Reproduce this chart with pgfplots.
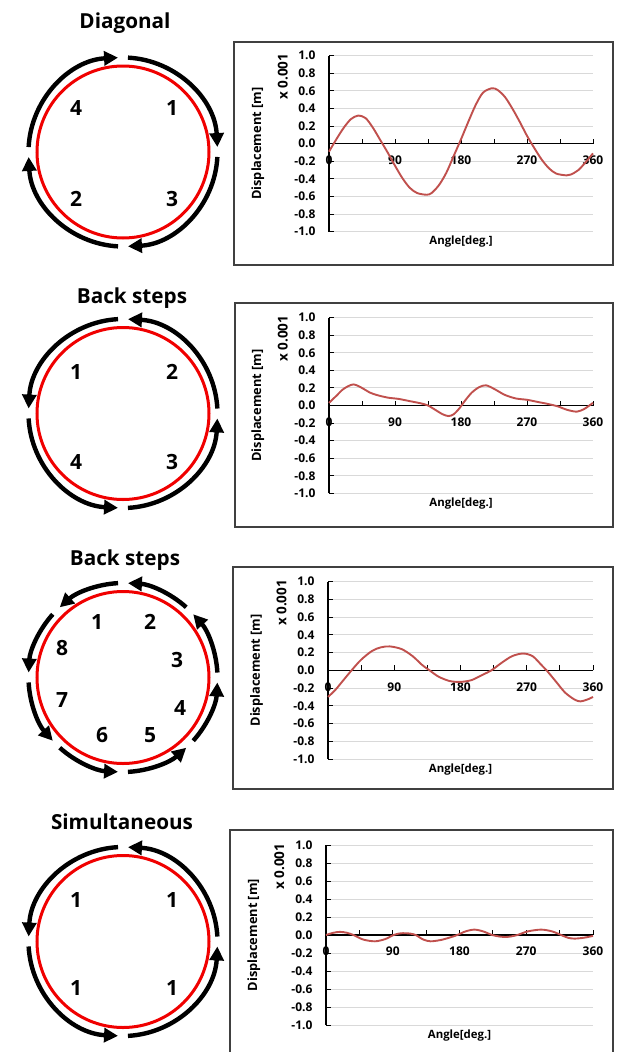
\documentclass[border=0pt]{standalone}
\usepackage{fontspec}
\setmainfont{Open Sans}
\usepackage{pgfplots}
\pgfplotsset{compat=1.18}
\usetikzlibrary{arrows.meta}
\definecolor{curve}{HTML}{C0504D}
\definecolor{gridc}{HTML}{D9D9D9}
\definecolor{ringred}{HTML}{F00000}
\definecolor{boxc}{HTML}{404040}

\pgfplotsset{
  dispaxis/.style={
    scale only axis,
    xmin=0, xmax=360, ymin=-1, ymax=1,
    axis x line=middle, axis y line=left,
    axis line style={-, black, line width=1.3pt},
    every inner x axis line/.append style={-},
    every outer y axis line/.append style={-},
    hide obscured x ticks=false,
    xtick={0,45,...,360},
    xticklabels={0,,90,,180,,270,,360},
    ytick={-1,-0.8,...,1.01},
    tick align=inside,
    major tick length=5pt,
    tick style={black, line width=1pt},
    ymajorgrids,
    grid style={gridc, line width=1pt},
    /pgf/number format/fixed,
    /pgf/number format/fixed zerofill,
    /pgf/number format/precision=1,
    /pgf/number format/assume math mode=true,
    yticklabel style={xshift=-10pt, font=\fontsize{12}{14}\selectfont\bfseries},
    xticklabel style={yshift=-8.5pt, font=\fontsize{12}{14}\selectfont\bfseries},
    ylabel={Displacement [m]},
    xlabel={Angle[deg.]},
    every axis y label/.style={at={(axis description cs:-0.27,0.5)}, rotate=90, anchor=center, font=\fontsize{12.8}{14}\selectfont\bfseries},
    every axis x label/.style={at={(axis description cs:0.5,-0.057)}, anchor=center, font=\fontsize{11.4}{13}\selectfont\bfseries},
    clip=false,
  },
  dispcurve/.style={curve, line width=1.9pt, smooth, no marks},
}

\newcommand{\ringcw}[2]{% center x, center y (pixels)
  \draw[ringred, line width=3pt] (#1pt,-#2pt) circle[radius=86pt];
  \foreach \k in {0,1,2,3}{
    \pgfmathsetmacro{\sa}{\k*90+87}
    \pgfmathsetmacro{\ea}{\k*90+3}
    \draw[line width=4.4pt, -{Triangle[length=14pt,width=14pt]}]
      ([shift={(\sa:94.5pt)}]#1pt,-#2pt) arc[start angle=\sa, end angle=\ea, radius=94.5pt];
  }
}
\newcommand{\ringccw}[3]{% center x, center y, step angle
  \draw[ringred, line width=3pt] (#1pt,-#2pt) circle[radius=86pt];
  \pgfmathtruncatemacro{\nn}{360/#3-1}
  \foreach \k in {0,...,\nn}{
    \pgfmathsetmacro{\sa}{\k*#3+3}
    \pgfmathsetmacro{\ea}{\k*#3+#3-3}
    \draw[line width=4.4pt, -{Triangle[length=14pt,width=14pt]}]
      ([shift={(\sa:94.5pt)}]#1pt,-#2pt) arc[start angle=\sa, end angle=\ea, radius=94.5pt];
  }
}
\newcommand{\xunit}{\node[rotate=90, font=\fontsize{13.5}{15}\selectfont\bfseries] at (axis description cs:-0.175,0.88) {x 0.001};}

\begin{document}
\begin{tikzpicture}
\path[use as bounding box] (0pt,0pt) rectangle (616pt,-1052pt);
\tikzset{title/.style={font=\fontsize{20.7}{24}\selectfont\bfseries, anchor=center},
         num/.style={font=\fontsize{21}{24}\selectfont\bfseries, anchor=center}}

% ---------- Panel 1 ----------
\node[title] at (125pt,-23pt) {Diagonal};
\ringcw{123}{152}
\node[num] at (76pt,-108pt) {4};
\node[num] at (172pt,-108pt) {1};
\node[num] at (76pt,-199pt) {2};
\node[num] at (172pt,-199pt) {3};
\draw[boxc, line width=1.6pt] (234pt,-42pt) rectangle (613pt,-265pt);
\begin{axis}[dispaxis, at={(329pt,-231.7pt)}, anchor=south west, width=264pt, height=176pt]
\addplot[dispcurve] coordinates {
(0,-0.09) (10,0.05) (20,0.18) (30,0.28) (40,0.32) (50,0.29) (60,0.18) (70,0.04)
(80,-0.10) (90,-0.25) (100,-0.39) (110,-0.50) (120,-0.56) (133,-0.58) (140,-0.56)
(150,-0.47) (160,-0.33) (170,-0.14) (180,0.05) (190,0.25) (200,0.44) (210,0.58)
(222,0.63) (230,0.61) (240,0.53) (250,0.40) (260,0.25) (270,0.09) (280,-0.05)
(290,-0.18) (300,-0.28) (310,-0.34) (324,-0.36) (330,-0.35) (340,-0.30) (350,-0.21) (360,-0.11)
};
\xunit
\end{axis}

% ---------- Panel 2 ----------
\node[title] at (132pt,-298pt) {Back steps};
\ringccw{123}{413.5}{90}
\node[num] at (76pt,-372pt) {1};
\node[num] at (172pt,-372pt) {2};
\node[num] at (76pt,-462pt) {4};
\node[num] at (172pt,-462pt) {3};
\draw[boxc, line width=1.6pt] (235pt,-303pt) rectangle (613pt,-527pt);
\begin{axis}[dispaxis, at={(329pt,-493.3pt)}, anchor=south west, width=264pt, height=175.6pt]
\addplot[dispcurve] coordinates {
(0,0.03) (10,0.11) (20,0.19) (33,0.24) (45,0.20) (55,0.15) (65,0.12) (80,0.09)
(95,0.075) (110,0.05) (125,0.025) (135,0.0) (145,-0.05) (155,-0.10) (163,-0.12)
(170,-0.10) (178,-0.03) (185,0.05) (195,0.15) (205,0.21) (214,0.23) (225,0.19)
(240,0.12) (255,0.08) (270,0.065) (285,0.04) (300,0.015) (312,-0.01) (325,-0.05)
(338,-0.07) (348,-0.04) (355,0.0) (360,0.03)
};
\xunit
\end{axis}

% ---------- Panel 3 ----------
\node[title] at (125pt,-560pt) {Back steps};
\ringccw{123}{677.5}{45}
\node[num] at (97pt,-622pt) {1};
\node[num] at (150pt,-622pt) {2};
\node[num] at (177pt,-660pt) {3};
\node[num] at (180pt,-708pt) {4};
\node[num] at (150pt,-735pt) {5};
\node[num] at (102pt,-735pt) {6};
\node[num] at (62pt,-700pt) {7};
\node[num] at (62pt,-648pt) {8};
\draw[boxc, line width=1.6pt] (233pt,-567pt) rectangle (613pt,-789pt);
\begin{axis}[dispaxis, at={(328pt,-759pt)}, anchor=south west, width=265pt, height=177.3pt]
\addplot[dispcurve] coordinates {
(0,-0.30) (10,-0.22) (20,-0.12) (32,0.0) (45,0.12) (60,0.22) (72,0.26) (84,0.27)
(100,0.24) (115,0.16) (128,0.06) (138,0.0) (150,-0.07) (165,-0.12) (180,-0.13)
(195,-0.11) (210,-0.05) (222,0.0) (235,0.08) (250,0.16) (265,0.19) (278,0.16)
(290,0.06) (297,0.0) (310,-0.13) (322,-0.25) (335,-0.33) (343,-0.35) (352,-0.33) (360,-0.30)
};
\xunit
\end{axis}

% ---------- Panel 4 ----------
\node[title] at (122pt,-822pt) {Simultaneous};
\ringccw{123}{941.5}{90}
\node[num] at (76pt,-900pt) {1};
\node[num] at (172pt,-900pt) {1};
\node[num] at (76pt,-988pt) {1};
\node[num] at (172pt,-988pt) {1};
\draw[boxc, line width=1.6pt] (230pt,-830pt) rectangle (613pt,-1060pt);
\begin{axis}[dispaxis, at={(326pt,-1025pt)}, anchor=south west, width=267pt, height=180pt]
\addplot[dispcurve] coordinates {
(0,0.0) (10,0.025) (19,0.035) (28,0.025) (37,0.0) (50,-0.05) (66,-0.07) (80,-0.045)
(91,0.0) (100,0.018) (107,0.02) (114,0.015) (121,0.0) (131,-0.05) (141,-0.07)
(155,-0.055) (168,-0.025) (177,0.0) (188,0.04) (200,0.06) (212,0.04) (224,0.0)
(235,-0.018) (243,-0.022) (250,-0.015) (258,0.0) (272,0.04) (290,0.06) (305,0.04)
(317,0.0) (326,-0.03) (335,-0.04) (348,-0.03) (360,-0.01)
};
\xunit
\end{axis}
\end{tikzpicture}
\end{document}
